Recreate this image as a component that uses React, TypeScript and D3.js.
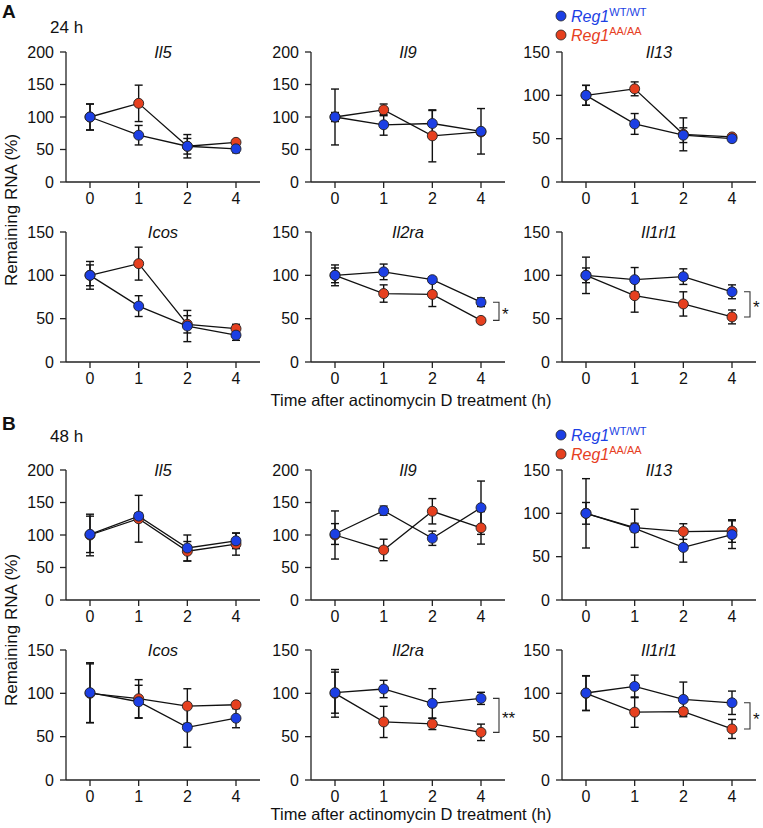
import React from "react";
import * as d3 from "d3";

const timeCats = ["0", "1", "2", "4"];
const genes = ["Il5", "Il9", "Il13", "Icos", "Il2ra", "Il1rl1"];
const yMaxByGene = [200, 200, 150, 150, 150, 150];
const conditions = ["24 h", "48 h"];
const panelLetters = ["A", "B"];

// 24 h
const wt24Mean = [
  [100, 72, 55, 51],
  [100, 88, 90, 78],
  [100, 67, 54, 50],
  [100, 64.5, 41.5, 31],
  [100, 104, 95, 69],
  [100, 95, 98.5, 81],
];
const wt24Err = [
  [20, 15, 12, 6],
  [7, 16, 20, 35],
  [11.5, 12, 8.5, 2],
  [16, 12, 18, 6],
  [8.5, 9, 3, 5],
  [8.5, 14, 9, 8],
];
const aa24Mean = [
  [100, 121, 55, 61],
  [100, 111, 71, 77],
  [100, 107.5, 55, 52],
  [100, 113.5, 43.5, 38.5],
  [100, 79, 78, 48],
  [100, 76.5, 67, 52],
];
const aa24Err = [
  [20, 28, 18, 3],
  [43, 9, 40, 5],
  [11.5, 8, 19, 2],
  [12, 19, 10, 5],
  [12, 10, 14, 1],
  [21, 19, 14, 8],
];

// 48 h
const wt48Mean = [
  [101, 129, 80, 91],
  [101.5, 137.5, 95, 142],
  [100, 82.7, 60.7, 75.4],
  [100.8, 90.3, 60.8, 71.3],
  [100.8, 105, 88.4, 94.2],
  [100.4, 108, 93, 89.1],
];
const wt48Err = [
  [28, 5, 20, 12],
  [16, 7, 11, 41],
  [12.5, 22, 17, 16],
  [34.5, 19, 23, 11],
  [23.7, 10, 17, 7],
  [20, 13, 20, 13.5],
];
const aa48Mean = [
  [100, 125, 75, 86],
  [100, 77, 136.5, 111],
  [100, 83.5, 79, 79.6],
  [100, 93.8, 85.3, 86.8],
  [100, 67, 64.7, 55],
  [100, 78.3, 79, 58.9],
];
const aa48Err = [
  [32, 36, 15, 17],
  [37, 16.5, 19.5, 25],
  [40, 5, 9, 13],
  [34, 22, 20, 2],
  [27.5, 18, 6.5, 9.5],
  [20, 17.5, 4, 11],
];

const sig24 = ["", "", "", "", "*", "*"];
const sig48 = ["", "", "", "", "**", "*"];

const BLUE = "#1c3fe4";
const RED = "#e6401f";
const FONT = "'Liberation Sans', Arial, sans-serif";

const colX = [66, 311, 562];
const rowTop = [52, 232, 470, 650];
const plotH = 130;

type PanelProps = {
  x0: number;
  top: number;
  gene: string;
  yMax: number;
  wtM: number[];
  wtE: number[];
  aaM: number[];
  aaE: number[];
  sig: string;
};

function Panel({ x0, top, gene, yMax, wtM, wtE, aaM, aaE, sig }: PanelProps) {
  const xs = d3.scalePoint<string>().domain(timeCats).range([x0 + 24, x0 + 170]);
  const ys = d3.scaleLinear().domain([0, yMax]).range([top + plotH, top]);
  const ticks = d3.range(0, yMax + 1, 50);
  const line = d3
    .line<number>()
    .x((_, i) => xs(timeCats[i]) as number)
    .y((d) => ys(d));
  const bottom = top + plotH;
  const series = [
    { m: aaM, e: aaE, c: RED },
    { m: wtM, e: wtE, c: BLUE },
  ];
  const x4 = xs("4") as number;
  return (
    <g>
      <line x1={x0} x2={x0} y1={top} y2={bottom} stroke="#222" strokeWidth={1.3} />
      <line x1={x0} x2={x0 + 194} y1={bottom} y2={bottom} stroke="#222" strokeWidth={1.3} />
      {ticks.map((t) => (
        <g key={t}>
          <line x1={x0 - 6} x2={x0} y1={ys(t)} y2={ys(t)} stroke="#222" strokeWidth={1.3} />
          <text x={x0 - 12} y={ys(t)} dy="0.36em" textAnchor="end" fontSize={16} fontFamily={FONT} fill="#111">
            {t}
          </text>
        </g>
      ))}
      {timeCats.map((c) => (
        <g key={c}>
          <line x1={xs(c)} x2={xs(c)} y1={bottom} y2={bottom + 6} stroke="#222" strokeWidth={1.3} />
          <text x={xs(c)} y={bottom + 22} textAnchor="middle" fontSize={16} fontFamily={FONT} fill="#111">
            {c}
          </text>
        </g>
      ))}
      <text
        x={((xs("0") as number) + x4) / 2}
        y={top + 6}
        textAnchor="middle"
        fontSize={16.5}
        fontStyle="italic"
        fontFamily={FONT}
        fill="#111"
      >
        {gene}
      </text>
      {series.map((s, si) =>
        s.m.map((m, i) => {
          const cx = xs(timeCats[i]) as number;
          const hi = ys(m + s.e[i]);
          const lo = ys(m - s.e[i]);
          return (
            <g key={`e${si}-${i}`} stroke="#111" strokeWidth={1.4}>
              <line x1={cx} x2={cx} y1={hi} y2={lo} />
              <line x1={cx - 4} x2={cx + 4} y1={hi} y2={hi} />
              <line x1={cx - 4} x2={cx + 4} y1={lo} y2={lo} />
            </g>
          );
        })
      )}
      {series.map((s, si) => (
        <path key={`l${si}`} d={line(s.m) || ""} fill="none" stroke="#111" strokeWidth={1.3} />
      ))}
      {series.map((s, si) =>
        s.m.map((m, i) => (
          <circle
            key={`p${si}-${i}`}
            cx={xs(timeCats[i])}
            cy={ys(m)}
            r={5}
            fill={s.c}
            stroke="#222"
            strokeWidth={0.9}
          />
        ))
      )}
      {sig && (
        <g>
          <path
            d={`M${x4 + 12},${ys(wtM[3])}H${x4 + 18}V${ys(aaM[3])}H${x4 + 12}`}
            fill="none"
            stroke="#333"
            strokeWidth={1.1}
          />
          <text
            x={x4 + 21}
            y={(ys(wtM[3]) + ys(aaM[3])) / 2 + 9}
            fontSize={17}
            fontFamily={FONT}
            fill="#111"
          >
            {sig}
          </text>
        </g>
      )}
    </g>
  );
}

function Legend({ y }: { y: number }) {
  const items = [
    { c: BLUE, sup: "WT/WT", dy: 0 },
    { c: RED, sup: "AA/AA", dy: 19 },
  ];
  return (
    <g>
      {items.map((it) => (
        <g key={it.sup}>
          <circle cx={561} cy={y + it.dy} r={5} fill={it.c} stroke="#222" strokeWidth={0.8} />
          <text x={571} y={y + it.dy + 6} fontFamily={FONT} fill={it.c}>
            <tspan fontSize={16} fontStyle="italic">
              Reg1
            </tspan>
            <tspan fontSize={11} dy={-6}>
              {it.sup}
            </tspan>
          </text>
        </g>
      ))}
    </g>
  );
}

export default function App() {
  const blocks = [
    { wm: wt24Mean, we: wt24Err, am: aa24Mean, ae: aa24Err, sig: sig24 },
    { wm: wt48Mean, we: wt48Err, am: aa48Mean, ae: aa48Err, sig: sig48 },
  ];
  const blockHeader = [
    { letterY: 18, condY: 33, legendY: 16, yLabel: 210, xTitle: 406 },
    { letterY: 430, condY: 442, legendY: 435, yLabel: 630, xTitle: 820 },
  ];
  return (
    <svg width={763} height={828} style={{ position: "absolute", left: 0, top: 0, background: "#fff" }}>
      {blocks.map((b, bi) => {
        const h = blockHeader[bi];
        return (
          <g key={bi}>
            <text x={2} y={h.letterY} fontSize={19} fontWeight="bold" fontFamily={FONT} fill="#111">
              {panelLetters[bi]}
            </text>
            <text x={50} y={h.condY} fontSize={17} fontFamily={FONT} fill="#111">
              {conditions[bi]}
            </text>
            <Legend y={h.legendY} />
            <text
              transform={`translate(17,${h.yLabel}) rotate(-90)`}
              textAnchor="middle"
              fontSize={17}
              fontFamily={FONT}
              fill="#111"
            >
              Remaining RNA (%)
            </text>
            <text x={411} y={h.xTitle} textAnchor="middle" fontSize={16.5} fontFamily={FONT} fill="#111">
              Time after actinomycin D treatment (h)
            </text>
            {genes.map((g, gi) => {
              const row = bi * 2 + Math.floor(gi / 3);
              const col = gi % 3;
              return (
                <Panel
                  key={g}
                  x0={colX[col]}
                  top={rowTop[row]}
                  gene={g}
                  yMax={yMaxByGene[gi]}
                  wtM={b.wm[gi]}
                  wtE={b.we[gi]}
                  aaM={b.am[gi]}
                  aaE={b.ae[gi]}
                  sig={b.sig[gi]}
                />
              );
            })}
          </g>
        );
      })}
    </svg>
  );
}
